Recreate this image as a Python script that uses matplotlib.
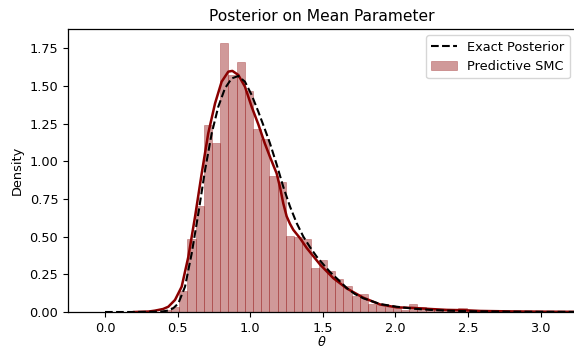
import numpy as np
import matplotlib
matplotlib.use("Agg")
import matplotlib.pyplot as plt

# Histogram of SMC samples (density), equal-width bins
bin_start = 0.397
bin_width = 0.0566
hist_density = [0.010, 0.030, 0.139, 0.485, 0.704, 1.241, 1.122, 1.788, 1.570,
                1.659, 1.467, 1.215, 1.148, 0.903, 0.861, 0.504, 0.498, 0.485,
                0.293, 0.345, 0.272, 0.220, 0.173, 0.108, 0.119, 0.055, 0.046,
                0.035, 0.024, 0.013, 0.053, 0.030, 0.018, 0.010, 0.006, 0.004,
                0.027, 0.004, 0.004, 0.002, 0.004, 0.002, 0.000, 0.002, 0.002,
                0.000, 0.002, 0.002, 0.000, 0.002]

# Kernel density estimate of the SMC samples
kde_theta = [0.20, 0.30, 0.344, 0.40, 0.436, 0.482, 0.528, 0.574, 0.62, 0.666,
             0.711, 0.758, 0.803, 0.849, 0.877, 0.918, 0.964, 1.01, 1.056, 1.10,
             1.14, 1.182, 1.205, 1.228, 1.251, 1.274, 1.297, 1.343, 1.389, 1.481,
             1.572, 1.664, 1.779, 1.894, 2.009, 2.124, 2.24, 2.354, 2.47, 2.585,
             2.80, 3.05, 3.25]
kde_density = [0.0, 0.003, 0.009, 0.02, 0.035, 0.08, 0.168, 0.367, 0.632, 0.92,
               1.186, 1.385, 1.528, 1.595, 1.60, 1.573, 1.495, 1.362, 1.245, 1.12,
               1.02, 0.92, 0.83, 0.72, 0.635, 0.585, 0.545, 0.49, 0.425, 0.315,
               0.225, 0.157, 0.095, 0.05, 0.031, 0.027, 0.02, 0.014, 0.012, 0.007,
               0.004, 0.002, 0.001]

# Exact posterior density
exact_theta = [0.0, 0.2, 0.3, 0.40, 0.436, 0.47, 0.505, 0.551, 0.597, 0.643,
               0.689, 0.735, 0.78, 0.826, 0.872, 0.918, 0.964, 1.01, 1.056, 1.102,
               1.136, 1.182, 1.228, 1.274, 1.32, 1.366, 1.412, 1.458, 1.50, 1.55,
               1.60, 1.664, 1.72, 1.779, 1.894, 2.009, 2.124, 2.24, 2.354, 2.47,
               2.585, 2.80, 3.0, 3.25]
exact_density = [0.0, 0.0, 0.001, 0.004, 0.01, 0.025, 0.057, 0.168, 0.389, 0.655,
                 0.942, 1.186, 1.362, 1.484, 1.55, 1.566, 1.528, 1.44, 1.329, 1.21,
                 1.12, 0.98, 0.83, 0.70, 0.59, 0.50, 0.43, 0.367, 0.32, 0.265,
                 0.22, 0.16, 0.12, 0.091, 0.053, 0.035, 0.022, 0.014, 0.009, 0.006,
                 0.004, 0.002, 0.001, 0.0005]

x_ticks = [0.0, 0.5, 1.0, 1.5, 2.0, 2.5, 3.0]
y_ticks = [0.00, 0.25, 0.50, 0.75, 1.00, 1.25, 1.50, 1.75]

plt.rcParams["font.size"] = 9.3
plt.rcParams["axes.linewidth"] = 0.9

fig = plt.figure(figsize=(5.74, 3.48), dpi=100)
ax = fig.add_axes([68 / 574, 36 / 348, 508 / 574, 283 / 348])

edges = bin_start + bin_width * np.arange(len(hist_density) + 1)
bars = ax.bar(edges[:-1], hist_density, width=bin_width, align="edge",
              color="darkred", alpha=0.4, edgecolor="darkred", linewidth=0.5,
              label="Predictive SMC")
ax.plot(kde_theta, kde_density, color="darkred", linewidth=1.8)
exact_line, = ax.plot(exact_theta, exact_density, color="black", linestyle="--",
                      linewidth=1.5, label="Exact Posterior")

ax.set_xlim(-0.255, 3.244)
ax.set_ylim(0, 1.878)
ax.set_xticks(x_ticks)
ax.set_yticks(y_ticks)
ax.set_xlabel(r"$\theta$", labelpad=0)
ax.set_ylabel("Density")
ax.set_title("Posterior on Mean Parameter")

ax.legend([exact_line, bars], ["Exact Posterior", "Predictive SMC"],
          loc="upper right")

fig.savefig("out.png", dpi=100)
